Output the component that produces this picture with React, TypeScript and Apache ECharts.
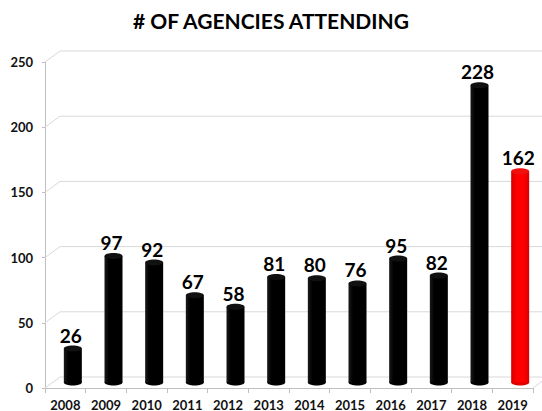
import React, { useEffect, useRef } from "react";
import * as echarts from "echarts";

const categories = ["2008", "2009", "2010", "2011", "2012", "2013", "2014", "2015", "2016", "2017", "2018", "2019"];
const attendance = [26, 97, 92, 67, 58, 81, 80, 76, 95, 82, 228, 162];
const highlightIndex = [11];
const yTicks = [0, 50, 100, 150, 200, 250];

const DX = 15;
const DY = -11;

export default function App() {
  const ref = useRef<HTMLDivElement>(null);
  useEffect(() => {
    if (!ref.current) return;
    const chart = echarts.init(ref.current, null, { renderer: "svg" });
    const font = "Lato, 'Open Sans', sans-serif";
    const blackFill = new echarts.graphic.LinearGradient(0, 0, 1, 0, [
      { offset: 0, color: "#1a1a1a" },
      { offset: 0.25, color: "#000" },
      { offset: 1, color: "#000" },
    ]);
    const redFill = new echarts.graphic.LinearGradient(0, 0, 1, 0, [
      { offset: 0, color: "#d00000" },
      { offset: 0.3, color: "#ff0000" },
      { offset: 0.7, color: "#ff0000" },
      { offset: 1, color: "#d80000" },
    ]);
    chart.setOption({
      animation: false,
      backgroundColor: "#fff",
      title: {
        text: "# OF AGENCIES ATTENDING",
        left: "center",
        top: 5,
        textStyle: { fontFamily: font, fontWeight: "bold", fontSize: 21, color: "#000" },
      },
      grid: { left: 45, right: 9, top: 62, bottom: 23 },
      xAxis: {
        type: "category",
        data: categories,
        boundaryGap: true,
        axisLine: { lineStyle: { color: "#bfbfbf" } },
        axisTick: { show: true, length: 5, lineStyle: { color: "#bfbfbf" } },
        axisLabel: { fontFamily: font, fontWeight: "bold", fontSize: 13, color: "#111", margin: 10 },
      },
      yAxis: {
        type: "value",
        min: 0,
        max: 250,
        interval: 50,
        axisLine: { show: true, lineStyle: { color: "#bfbfbf" } },
        axisTick: { show: true, length: 3, lineStyle: { color: "#bfbfbf" } },
        splitLine: { show: false },
        axisLabel: { fontFamily: font, fontWeight: "bold", fontSize: 13, color: "#111", margin: 12 },
      },
      series: [
        {
          type: "custom",
          z: 1,
          silent: true,
          data: yTicks.map((v) => [0, v]),
          encode: { x: 0, y: 1 },
          renderItem: (params: any, api: any) => {
            const v = api.value(1);
            const p = api.coord([0, v]);
            const cs = params.coordSys;
            const x0 = cs.x;
            const y = p[1];
            const children: any[] = [
              {
                type: "polyline",
                shape: { points: [[x0, y], [x0 + DX, y + DY], [cs.x + cs.width + DX + 10, y + DY]] },
                style: { stroke: "#d9d9d9", fill: null, lineWidth: 1 },
              },
            ];
            if (v === 0) {
              children.push({
                type: "line",
                shape: { x1: cs.x + cs.width, y1: y, x2: cs.x + cs.width + DX, y2: y + DY },
                style: { stroke: "#d9d9d9", lineWidth: 1 },
              });
            }
            return { type: "group", children };
          },
        },
        {
          type: "custom",
          z: 3,
          data: attendance.map((v, i) => [i, v]),
          encode: { x: 0, y: 1 },
          renderItem: (params: any, api: any) => {
            const i = api.value(0);
            const v = api.value(1);
            const top = api.coord([i, v]);
            const base = api.coord([i, 0]);
            const cx = top[0] + DX / 2;
            const ty = top[1] + DY / 2;
            const by = base[1] + DY / 2;
            const hw = 9;
            const ry = 3;
            const isRed = highlightIndex.includes(i);
            const fill = isRed ? redFill : blackFill;
            return {
              type: "group",
              children: [
                {
                  type: "ellipse",
                  shape: { cx, cy: by, rx: hw, ry },
                  style: { fill: isRed ? "#e00000" : "#000" },
                },
                {
                  type: "rect",
                  shape: { x: cx - hw, y: ty, width: hw * 2, height: by - ty },
                  style: { fill },
                },
                {
                  type: "ellipse",
                  shape: { cx, cy: ty, rx: hw, ry },
                  style: { fill: isRed ? "#f01010" : "#111" },
                },
                {
                  type: "text",
                  x: cx - 2,
                  y: ty - 4,
                  style: {
                    text: String(v),
                    align: "center",
                    verticalAlign: "bottom",
                    font: `bold 19px ${font}`,
                    fill: "#000",
                  },
                },
              ],
            };
          },
        },
      ],
    });
    return () => chart.dispose();
  }, []);
  return (
    <div
      ref={ref}
      style={{ position: "fixed", left: 0, top: 0, width: 542, height: 411, background: "#fff" }}
    />
  );
}
